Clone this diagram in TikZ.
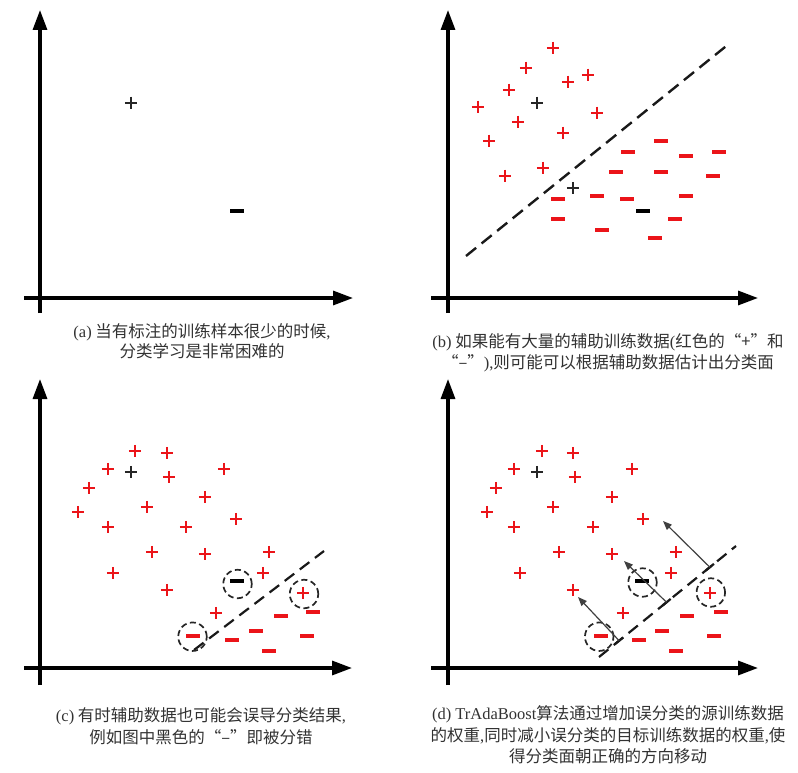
\documentclass[tikz,border=0pt]{standalone}
\usepackage{fontspec}
\setmainfont{Liberation Serif}
\newfontfamily\cjk{Noto Sans CJK SC}
\usetikzlibrary{arrows.meta,calc}
\definecolor{mred}{RGB}{235,20,25}
\definecolor{capcol}{RGB}{50,50,50}
\begin{document}
\begin{tikzpicture}[x=1pt,y=-1pt,
  axisline/.style={line width=3.2pt,-{Triangle[length=20pt,width=14pt]}},
  plusmark/.style={minimum size=12.5pt, inner sep=0pt, outer sep=0pt, path picture={
      \draw[line width=1.4pt, draw=#1] (path picture bounding box.north) -- (path picture bounding box.south)
        (path picture bounding box.west) -- (path picture bounding box.east);}},
  rp/.style={plusmark=mred}, kp/.style={plusmark=black!85},
  minusmark/.style={rectangle, minimum width=14pt, minimum height=4pt, inner sep=0pt, fill=#1},
  rm/.style={minusmark=mred}, km/.style={minusmark=black},
  ringmark/.style={circle, minimum size=28.5pt, inner sep=0pt, draw=black!85, line width=1.7pt, dash pattern=on 6pt off 3.5pt},
  sepline/.style={line width=2.4pt, dash pattern=on 13pt off 7pt, draw=black!90},
  sepline2/.style={line width=2.2pt, dash pattern=on 12pt off 7pt, draw=black!90},
  pusharrow/.style={line width=1.2pt, draw=black!75, -{Triangle[length=9pt,width=7pt]}},
  captext/.style={font=\cjk\fontsize{16.5}{21.5}\selectfont, text=capcol, align=center, inner sep=0pt}
]
\useasboundingbox (0,0) rectangle (798,773);

% ---------- panel (a)
\coordinate (a-yb) at (40,313); \coordinate (a-yt) at (40,10);
\coordinate (a-xl) at (24,298); \coordinate (a-xr) at (353,298);
\draw[axisline] (a-yb) -- (a-yt);
\draw[axisline] (a-xl) -- (a-xr);
\node[kp] (a-p) at (131,103) {};
\node[km] (a-m) at (237,211) {};
\node[captext] (capa) at (202,341) {{\rmfamily(a)} 当有标注的训练样本很少的时候{\rmfamily,}\\[-1.5pt]分类学习是非常困难的};

% ---------- panel (b)
\coordinate (b-yb) at (448,313); \coordinate (b-yt) at (448,10);
\coordinate (b-xl) at (431,298); \coordinate (b-xr) at (758,298);
\draw[axisline] (b-yb) -- (b-yt);
\draw[axisline] (b-xl) -- (b-xr);
\coordinate (b-ls) at (466,256); \coordinate (b-le) at (730,43);
\draw[sepline] (b-ls) -- (b-le);
\foreach \x/\y [count=\i] in {553/48,526/68,588/75,568/82,509/90,478/107,597/113,518/122,563/133,489/141,543/168,505/176}
  \node[rp] (b-rp\i) at (\x,\y) {};
\node[kp] (b-kp1) at (537,103) {};
\node[kp] (b-kp2) at (573,188) {};
\foreach \x/\y [count=\i] in {661/141,628/152,686/156,719/152,616/172,661/172,713/176,597/196,558/199,627/199,686/196,558/219,675/219,602/230,655/238}
  \node[rm] (b-rm\i) at (\x,\y) {};
\node[km] (b-km) at (643,211) {};
\node[captext] (capb) at (608,353) {{\rmfamily(b)} 如果能有大量的辅助训练数据{\rmfamily(}红色的“+”和\\“–”{\rmfamily),}则可能可以根据辅助数据估计出分类面};

% ---------- panel (c)
\coordinate (c-yb) at (40,685); \coordinate (c-yt) at (40,379);
\coordinate (c-xl) at (24,668); \coordinate (c-xr) at (352,668);
\draw[axisline] (c-yb) -- (c-yt);
\draw[axisline] (c-xl) -- (c-xr);
\coordinate (c-ls) at (194,650); \coordinate (c-le) at (324,551);
\draw[sepline2] (c-ls) -- (c-le);
\foreach \x/\y [count=\i] in {135/451,167/453,108/469,169/477,224/469,89/488,205/497,78/512,147/507,236/519,108/527,186/527,152/552,205/554,269/552,113/573,263/573,167/590,216/613,303/593}
  \node[rp] (c-rp\i) at (\x,\y) {};
\node[kp] (c-kp) at (131,472) {};
\foreach \x/\y [count=\i] in {193/636,281/616,313/612,256/631,232/640,307/636,269/651}
  \node[rm] (c-rm\i) at (\x,\y) {};
\node[km] (c-km) at (237,581) {};
\node[ringmark] (c-r1) at (237.5,584) {};
\node[ringmark] (c-r2) at (304,594) {};
\node[ringmark] (c-r3) at (192.5,636.7) {};
\node[captext] (capc) at (201,726) {{\rmfamily(c)} 有时辅助数据也可能会误导分类结果{\rmfamily,}\\例如图中黑色的“–”即被分错};

% ---------- panel (d)
\coordinate (d-yb) at (448,685); \coordinate (d-yt) at (448,379);
\coordinate (d-xl) at (431,668); \coordinate (d-xr) at (758,668);
\draw[axisline] (d-yb) -- (d-yt);
\draw[axisline] (d-xl) -- (d-xr);
\coordinate (d-ls) at (599,657); \coordinate (d-le) at (736,546);
\draw[sepline2] (d-ls) -- (d-le);
\foreach \x/\y [count=\i] in {542/451,573/453,514/469,575/477,632/469,496/488,612/497,487/512,553/507,643/519,514/527,593/527,559/552,612/554,676/552,520/573,671/573,573/590,623/613,710/593}
  \node[rp] (d-rp\i) at (\x,\y) {};
\node[kp] (d-kp) at (537,472) {};
\foreach \x/\y [count=\i] in {601/636,687/616,721/612,662/631,639/640,714/636,676/651}
  \node[rm] (d-rm\i) at (\x,\y) {};
\node[km] (d-km) at (642,581) {};
\node[ringmark] (d-r1) at (642.5,582.5) {};
\node[ringmark] (d-r2) at (710.8,592.5) {};
\node[ringmark] (d-r3) at (599.2,636.7) {};
\coordinate (d-b1) at ($(d-ls)!0.147!(d-le)$);
\coordinate (d-b2) at ($(d-ls)!0.493!(d-le)$);
\coordinate (d-b3) at ($(d-ls)!0.809!(d-le)$);
\coordinate (d-t1) at (578,597);
\coordinate (d-t2) at (624,561);
\coordinate (d-t3) at (663,521);
\foreach \i/\f in {1/0.147,2/0.493,3/0.809}{
  \draw[line width=2.2pt, draw=black!90] ($(d-ls)!\f-0.03!(d-le)$) -- ($(d-ls)!\f+0.03!(d-le)$);
}
\draw[pusharrow] (d-b1) -- (d-t1);
\draw[pusharrow] (d-b2) -- (d-t2);
\draw[pusharrow] (d-b3) -- (d-t3);
\node[captext] (capd) at (608,735) {{\rmfamily(d) TrAdaBoost}算法通过增加误分类的源训练数据\\的权重{\rmfamily,}同时减小误分类的目标训练数据的权重{\rmfamily,}使\\得分类面朝正确的方向移动};
\end{tikzpicture}
\end{document}
